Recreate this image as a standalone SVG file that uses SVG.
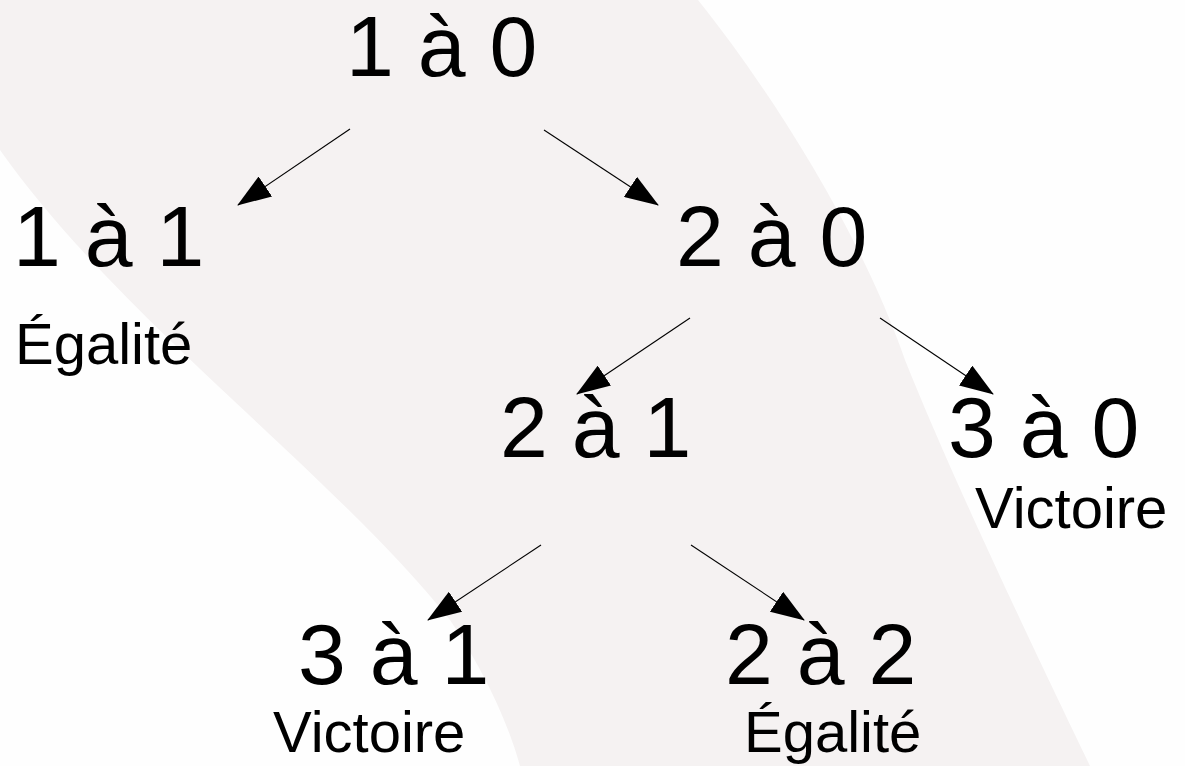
<svg xmlns="http://www.w3.org/2000/svg" width="1185" height="766" viewBox="0 0 1185 766">
  <defs>
    <style>
      .big { font-family: "Liberation Sans", Arial, sans-serif; font-size: 86px; fill: #000; }
      .small { font-family: "Liberation Sans", Arial, sans-serif; font-size: 58px; fill: #000; }
      .conn { stroke: #000; stroke-width: 1.1; fill: none; marker-end: url(#arrow); }
    </style>
    <marker id="arrow" markerUnits="userSpaceOnUse" markerWidth="34" markerHeight="24" viewBox="0 0 34 24" refX="33" refY="12" orient="auto">
      <path d="M0,0 L34,12 L0,24 Z" fill="#000"/>
    </marker>
  </defs>
  <rect x="0" y="0" width="1185" height="766" fill="#fefefe"/>
  <path id="band" d="M0,0 L698,0 C770,90 860,230 905,360 C945,460 1010,600 1090,766 L520,766 C510,730 490,680 450,620 C330,470 120,320 0,150 Z" fill="#f5f2f2"/>

  <g id="connectors">
    <line class="conn" x1="350" y1="129" x2="238" y2="205"/>
    <line class="conn" x1="544" y1="130" x2="658" y2="205"/>
    <line class="conn" x1="690" y1="318" x2="577" y2="394"/>
    <line class="conn" x1="880" y1="318" x2="993" y2="394"/>
    <line class="conn" x1="541" y1="545" x2="428" y2="620"/>
    <line class="conn" x1="691" y1="545" x2="804" y2="620"/>
  </g>

  <g id="node-1-0"><text class="big" x="346" y="76">1 à 0</text></g>
  <g id="node-1-1">
    <text class="big" x="13" y="266">1 à 1</text>
    <text class="small" x="15" y="364">Égalité</text>
  </g>
  <g id="node-2-0"><text class="big" x="676" y="266">2 à 0</text></g>
  <g id="node-2-1"><text class="big" x="500" y="457">2 à 1</text></g>
  <g id="node-3-0">
    <text class="big" x="948" y="457">3 à 0</text>
    <text class="small" x="975" y="528">Victoire</text>
  </g>
  <g id="node-3-1">
    <text class="big" x="298" y="684">3 à 1</text>
    <text class="small" x="273" y="752">Victoire</text>
  </g>
  <g id="node-2-2">
    <text class="big" x="725" y="684">2 à 2</text>
    <text class="small" x="744" y="752">Égalité</text>
  </g>
</svg>
